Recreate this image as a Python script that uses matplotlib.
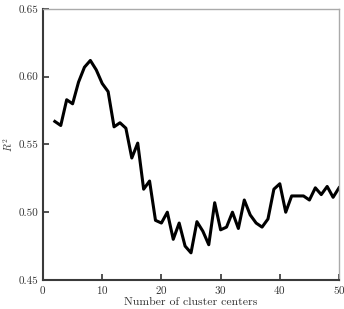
import matplotlib
matplotlib.use('Agg')
import matplotlib.pyplot as plt

plt.rcParams['font.family'] = 'serif'
plt.rcParams['font.serif'] = ['cmr10', 'DejaVu Serif']
plt.rcParams['mathtext.fontset'] = 'cm'
plt.rcParams['axes.formatter.use_mathtext'] = True

centers = list(range(2, 51))
r2 = [0.567, 0.564, 0.583, 0.580, 0.596, 0.607, 0.612, 0.605, 0.595, 0.589,
      0.563, 0.566, 0.562, 0.540, 0.551, 0.517, 0.523, 0.494, 0.492, 0.500,
      0.480, 0.492, 0.475, 0.470, 0.493, 0.486, 0.476, 0.507, 0.487, 0.489,
      0.500, 0.488, 0.509, 0.498, 0.492, 0.489, 0.495, 0.517, 0.521, 0.500,
      0.512, 0.512, 0.512, 0.509, 0.518, 0.513, 0.519, 0.511, 0.518]

xticks = [0, 10, 20, 30, 40, 50]
yticks = [0.45, 0.50, 0.55, 0.60, 0.65]

fig = plt.figure(figsize=(3.44, 3.09), dpi=100)
ax = fig.add_axes([0.125, 0.094, 0.8605, 0.877])
ax.plot(centers, r2, color='black', linewidth=2.2)

ax.set_xlim(0, 50)
ax.set_ylim(0.45, 0.65)
ax.set_xticks(xticks)
ax.set_yticks(yticks)
ax.set_yticklabels(['%.2f' % v for v in yticks])
ax.tick_params(direction='in', length=4, width=1.2, color='#333333',
               labelsize=8, labelcolor='#333333', pad=3)

for s in ['left', 'bottom']:
    ax.spines[s].set_color('#3a3a3a')
    ax.spines[s].set_linewidth(1.5)
for s in ['top', 'right']:
    ax.spines[s].set_color('#aaaaaa')
    ax.spines[s].set_linewidth(1.0)

ax.set_xlabel('Number of cluster centers', fontsize=8.5, color='#333333', labelpad=1)
ax.set_ylabel('$R^2$', fontsize=7.5, color='#333333', labelpad=3)

fig.savefig('out.png', dpi=100)
